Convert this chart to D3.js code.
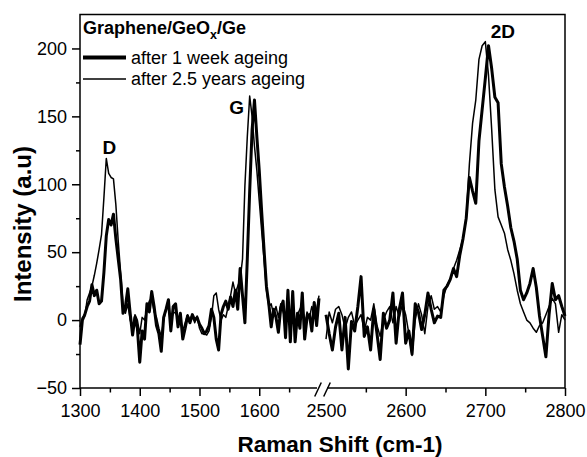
<!DOCTYPE html>
<html>
<head>
<meta charset="utf-8">
<script src="https://cdn.jsdelivr.net/npm/d3@7"></script>
<style>
  html, body { margin: 0; padding: 0; background: #fff; }
  svg { display: block; }
  text { font-family: Arial, "Liberation Sans", Helvetica, sans-serif; fill: #000; }
</style>
</head>
<body>
<svg id="chart" width="587" height="457"></svg>
<script>
// Raman shift grid, low-wavenumber window (D and G bands), cm-1
const lowShift = [
  1300,1304,1308,1312,1316,1320,1324,1328,1332,1336,
  1340,1344,1348,1352,1356,1360,1364,1368,1372,1376,
  1380,1384,1388,1392,1396,1400,1404,1408,1412,1416,
  1420,1424,1428,1432,1436,1440,1444,1448,1452,1456,
  1460,1464,1468,1472,1476,1480,1484,1488,1492,1496,
  1500,1504,1508,1512,1516,1520,1524,1528,1532,1536,
  1540,1544,1548,1552,1556,1560,1564,1568,1572,1576,
  1580,1584,1588,1592,1596,1600,1604,1608,1612,1616,
  1620,1624,1628,1632,1636,1640,1644,1648,1652,1656,
  1660,1664,1668,1672,1676,1680,1684,1688,1692,1696,
  1700
];
// Intensity after 1 week ageing, low window
const lowWeek = [
  -18,0,4,10,14,26,18,22,12,14,
  35,62,74,70,78,60,45,30,5,10,
  23,5,-11,2,-6,-31,-8,-14,12,6,
  21,10,-4,-10,-23,2,8,15,-8,10,
  12,-5,5,-14,-6,3,-2,4,0,2,
  -3,-6,-10,-8,-4,8,2,-14,-22,4,
  10,14,8,17,10,22,8,38,18,-2,
  45,95,140,162,135,110,80,52,25,12,
  -5,8,2,-9,9,14,-13,22,-16,21,
  -16,5,-6,20,-14,2,4,-8,13,-4,
  16
];
// Intensity after 2.5 years ageing, low window
const lowYears = [
  -5,2,3,15,20,25,33,42,52,63,
  90,119,108,105,104,85,58,35,12,5,
  12,0,-6,4,0,-10,2,0,8,14,
  16,6,2,-6,-12,0,8,10,-2,6,
  5,2,2,-8,-2,4,0,4,-2,3,
  -6,-10,-10,-11,-8,2,18,20,8,0,
  4,2,10,18,28,20,25,30,45,99,
  135,165,150,128,110,88,66,45,22,10,
  12,4,10,2,12,6,0,12,-4,8,
  -10,4,8,12,-4,6,2,10,4,8,
  18
];

// Raman shift grid, high-wavenumber window (2D band), cm-1
const highShift = [
  2500,2504,2508,2512,2516,2520,2524,2528,2532,2536,
  2540,2544,2548,2552,2556,2560,2564,2568,2572,2576,
  2580,2584,2588,2592,2596,2600,2604,2608,2612,2616,
  2620,2624,2628,2632,2636,2640,2644,2648,2652,2656,
  2660,2664,2668,2672,2676,2680,2684,2688,2692,2696,
  2700,2704,2708,2712,2716,2720,2724,2728,2732,2736,
  2740,2744,2748,2752,2756,2760,2764,2768,2772,2776,
  2780,2784,2788,2792,2796,2800
];
const highWeek = [
  4,-10,-22,-5,5,-22,2,-36,-1,-8,
  10,32,-12,-5,-22,8,-10,-29,5,-6,
  0,20,-17,8,20,-17,-8,-25,12,6,
  -7,4,20,8,-2,3,2,22,25,30,
  38,32,48,60,75,105,95,86,132,155,
  178,202,185,164,160,115,98,84,68,58,
  45,22,15,20,27,38,24,3,-12,-27,
  4,27,15,18,10,3
];
const highYears = [
  -14,6,-2,8,10,4,-6,2,6,-4,
  0,4,-8,2,0,12,-4,-12,0,6,
  10,-2,10,2,12,4,-10,-26,0,12,
  4,-10,10,18,8,10,6,18,26,30,
  38,44,52,60,75,115,145,162,192,202,
  205,180,140,96,76,70,64,52,44,34,
  22,12,6,0,-2,-6,-9,-4,-2,4,
  10,16,12,-9,4,0
];

// Axis ticks
const lowTicks = [1300, 1400, 1500, 1600];
const lowMinor = [1350, 1450, 1550, 1650];
const highTicks = [2500, 2600, 2700, 2800];
const highMinor = [2550, 2650, 2750];
const yTicks = [-50, 0, 50, 100, 150, 200];
const yMinor = [-25, 25, 75, 125, 175];

// Legend and band labels
const legendTitle = ["Graphene/GeO", "x", "/Ge"];
const seriesNames = ["after 1 week ageing", "after 2.5 years ageing"];
const bandNames = ["D", "G", "2D"];
const bandShift = [1349, 1562, 2722];
const bandValue = [122, 152, 208];

// ---- layout ----
const svg = d3.select("#chart");
const plotLeft = 80, plotRight = 565, plotTop = 14.5, plotBottom = 388;

const y = d3.scaleLinear().domain([-50, 225]).range([plotBottom, plotTop]);
const xLow = d3.scaleLinear().domain([1300, 1700]).range([plotLeft, 319]);
const xHigh = d3.scaleLinear().domain([2500, 2800]).range([326, plotRight]);
const bandX = s => (s < 2000 ? xLow(s) : xHigh(s));

// frame: left, top and right sides
const frame = svg.append("g").attr("stroke", "#000").attr("stroke-width", 1.5).attr("fill", "none");
frame.append("path").attr("d", `M${plotLeft},${plotBottom}V${plotTop}H${plotRight}V${plotBottom}`);

// bottom axis line, broken between the two windows
const breakMid = (xLow(1700) + xHigh(2500)) / 2;
frame.append("line").attr("x1", plotLeft).attr("x2", breakMid - 5.5).attr("y1", plotBottom).attr("y2", plotBottom);
frame.append("line").attr("x1", breakMid + 4.5).attr("x2", plotRight).attr("y1", plotBottom).attr("y2", plotBottom);
[-4.5, 4.5].forEach(off => {
  frame.append("line")
    .attr("x1", breakMid + off - 3.3).attr("y1", plotBottom + 8.5)
    .attr("x2", breakMid + off + 3.3).attr("y2", plotBottom - 5.5);
});

function styleAxis(g) {
  g.select(".domain").remove();
  g.selectAll(".tick line").attr("stroke", "#000").attr("stroke-width", 1.5);
  g.selectAll(".tick text").attr("font-size", 18).attr("fill", "#000")
    .attr("font-family", "Arial, 'Liberation Sans', sans-serif");
}

// y axis
svg.append("g").attr("transform", `translate(${plotLeft},0)`)
  .call(d3.axisLeft(y).tickValues(yTicks).tickSize(8).tickPadding(5).tickFormat(d3.format("d")))
  .call(styleAxis);
svg.append("g").attr("transform", `translate(${plotLeft},0)`)
  .call(d3.axisLeft(y).tickValues(yMinor).tickSize(4).tickFormat(""))
  .call(styleAxis);

// x axes for both windows
svg.append("g").attr("transform", `translate(0,${plotBottom})`)
  .call(d3.axisBottom(xLow).tickValues(lowTicks).tickSize(8).tickPadding(8).tickFormat(d3.format("d")))
  .call(styleAxis);
svg.append("g").attr("transform", `translate(0,${plotBottom})`)
  .call(d3.axisBottom(xLow).tickValues(lowMinor).tickSize(4.5).tickFormat(""))
  .call(styleAxis);
const highAxis = svg.append("g").attr("transform", `translate(0,${plotBottom})`)
  .call(d3.axisBottom(xHigh).tickValues(highTicks).tickSize(8).tickPadding(8).tickFormat(d3.format("d")))
  .call(styleAxis);
highAxis.selectAll(".tick").filter(d => d === 2500).select("line").remove();
svg.append("g").attr("transform", `translate(0,${plotBottom})`)
  .call(d3.axisBottom(xHigh).tickValues(highMinor).tickSize(4.5).tickFormat(""))
  .call(styleAxis);

// axis titles
svg.append("text")
  .attr("x", 340).attr("y", 452)
  .attr("text-anchor", "middle")
  .attr("font-size", 22.5).attr("font-weight", "bold")
  .text("Raman Shift (cm-1)");
svg.append("text")
  .attr("transform", "translate(31,224) rotate(-90)")
  .attr("text-anchor", "middle")
  .attr("font-size", 24).attr("font-weight", "bold")
  .text("Intensity (a.u)");

// spectra
function drawSpectrum(xs, vals, xScale, width) {
  const pts = xs.map((s, i) => [s, vals[i]]);
  svg.append("path")
    .datum(pts)
    .attr("fill", "none")
    .attr("stroke", "#000")
    .attr("stroke-width", width)
    .attr("stroke-linejoin", "round")
    .attr("d", d3.line().x(d => xScale(d[0])).y(d => y(d[1])));
}
const weekWidth = 3, yearsWidth = 1.5;
drawSpectrum(lowShift, lowWeek, xLow, weekWidth);
drawSpectrum(highShift, highWeek, xHigh, weekWidth);
drawSpectrum(lowShift, lowYears, xLow, yearsWidth);
drawSpectrum(highShift, highYears, xHigh, yearsWidth);

// band labels
bandNames.forEach((name, i) => {
  svg.append("text")
    .attr("x", bandX(bandShift[i])).attr("y", y(bandValue[i]))
    .attr("text-anchor", "middle")
    .attr("font-size", 19).attr("font-weight", "bold")
    .text(name);
});

// legend
const legend = svg.append("g");
const title = legend.append("text").attr("x", 83).attr("y", 33.5)
  .attr("font-size", 18).attr("font-weight", "bold");
title.append("tspan").text(legendTitle[0]);
title.append("tspan").attr("font-size", 12.5).attr("dy", 5).text(legendTitle[1]);
title.append("tspan").attr("dy", -5).text(legendTitle[2]);

[weekWidth + 0.8, yearsWidth].forEach((w, i) => {
  const ly = 57.5 + i * 21.5;
  legend.append("line")
    .attr("x1", 83).attr("x2", 126).attr("y1", ly).attr("y2", ly)
    .attr("stroke", "#000").attr("stroke-width", w);
  legend.append("text")
    .attr("x", 131).attr("y", ly + 6.2)
    .attr("font-size", 18)
    .text(seriesNames[i]);
});
</script>
</body>
</html>
